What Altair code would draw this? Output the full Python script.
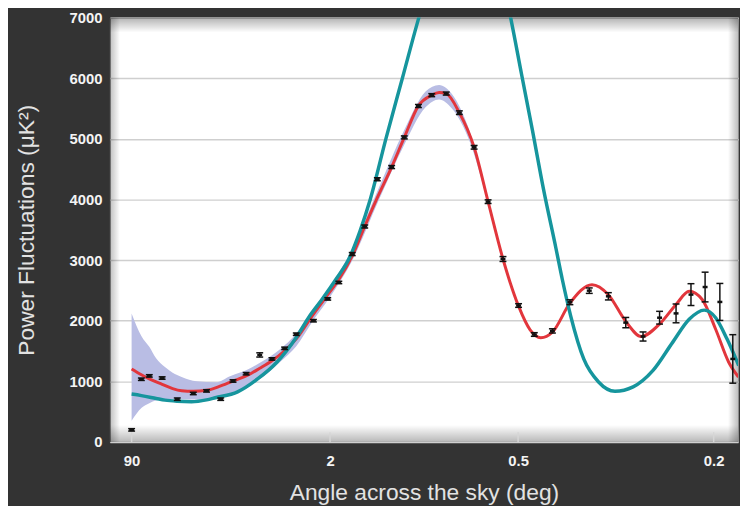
import altair as alt
import pandas as pd

# ---- data (x = multipole l, angle = 180/l) ----
red_l = [2, 3, 4, 6, 8, 10, 13, 17, 22, 28, 34, 40, 47, 55, 63, 75, 88, 98, 111, 124, 138,
         155, 171, 190, 209, 220, 231, 252, 277, 302, 330, 361, 385, 408, 434, 475, 530,
         573, 621, 666, 721, 773, 816, 860, 907, 954, 990]
red_v = [1205, 1110, 1040, 950, 880, 845, 835, 852, 925, 1020, 1105, 1215, 1340, 1505, 1700,
         2080, 2430, 2680, 3070, 3556, 4030, 4535, 5024, 5545, 5721, 5765, 5747, 5432, 4861,
         3964, 3018, 2240, 1850, 1720, 1810, 2290, 2594, 2430, 1990, 1740, 1945, 2268, 2485,
         2350, 1860, 1316, 1072]

cyan_l = [2, 3, 5, 6.5, 9, 12.5, 17, 20, 29, 39, 50, 63, 73, 83, 96, 108, 119, 130, 148,
          168.5, 190.6, 214, 245, 277, 314, 345, 367, 390, 414, 442, 457, 477, 509, 547, 591,
          642, 701, 762, 816, 867, 907, 948, 991]
cyan_v = [790, 765, 718, 690, 672, 665, 695, 730, 827, 1044, 1316, 1724, 2077, 2350, 2700,
          3030, 3480, 4000, 5000, 6000, 7000, 7870, 8500, 8700, 8165, 7000, 6070, 5140, 4170,
          3200, 2680, 2077, 1370, 990, 837, 909, 1180, 1643, 2023, 2175, 2050, 1697, 1261]

band_l = [2, 3, 4, 5, 6.5, 8, 10, 14, 20, 26, 34, 42, 52, 63, 75, 90, 110, 140, 170, 200,
          220, 240, 270, 300]
band_lo = [350, 560, 640, 690, 710, 710, 705, 700, 730, 790, 920, 1080, 1320, 1580, 1980,
           2390, 2960, 4000, 4880, 5520, 5650, 5500, 4940, 3990]
band_hi = [2120, 1750, 1570, 1380, 1235, 1140, 1070, 1000, 985, 1090, 1200, 1340, 1530, 1790,
           2170, 2570, 3150, 4200, 5120, 5780, 5890, 5740, 5110, 4090]

data_l = [2, 3, 4, 6, 9, 13, 17, 22, 27, 33, 40, 47, 55, 63, 76, 88, 98, 111, 124, 138, 155,
          171, 190, 209, 231, 252, 277, 302, 330, 361, 394, 434, 475, 523, 573, 621, 671,
          721, 773, 822, 870, 922, 969]
data_v = [200, 1035, 1090, 1055, 706, 800, 843, 706, 1006, 1126, 1436, 1370, 1545, 1778,
          2000, 2360, 2631, 3100, 3556, 4334, 4535, 5024, 5542, 5721, 5747, 5432, 4861, 3964,
          3018, 2251, 1773, 1832, 2305, 2496, 2403, 1969, 1740, 2050, 2121, 2431, 2556, 2310,
          1370]
data_err = [20, 20, 20, 20, 20, 20, 20, 20, 20, 20, 35, 20, 20, 20, 20, 20, 20, 25, 25, 25,
            25, 25, 25, 25, 25, 30, 30, 30, 40, 30, 30, 35, 40, 45, 60, 85, 75, 105, 155, 180,
            245, 305, 400]

tick_l = [2, 90, 360, 900]
tick_labels = ["90", "2", "0.5", "0.2"]
y_ticks = [0, 1000, 2000, 3000, 4000, 5000, 6000, 7000]

X_DOMAIN = [0.5755, 988.4]
Y_DOMAIN = [0, 7000]

# ---- tables ----
red_df = pd.DataFrame({"l": red_l, "v": red_v})
cyan_df = pd.DataFrame({"l": cyan_l, "v": cyan_v})
band_df = pd.DataFrame({"l": band_l, "lo": band_lo, "hi": band_hi})
pts_df = pd.DataFrame({"l": data_l, "v": data_v, "err": data_err})
pts_df["lo"] = pts_df["v"] - pts_df["err"]
pts_df["hi"] = pts_df["v"] + pts_df["err"]
ticks_df = pd.DataFrame({"l": tick_l, "y0": [0] * len(tick_l), "y1": [160] * len(tick_l)})
frame_df = pd.DataFrame({"x0": [X_DOMAIN[0]], "x1": [X_DOMAIN[1]],
                         "y0": [Y_DOMAIN[0]], "y1": [Y_DOMAIN[1]]})

label_expr = ""
for t, lab in zip(tick_l, tick_labels):
    label_expr += f"datum.value == {t} ? '{lab}' : "
label_expr += "''"

FONT = "Liberation Sans"
xs = alt.Scale(type="pow", exponent=0.4, domain=X_DOMAIN, zero=False, nice=False)
ys = alt.Scale(domain=Y_DOMAIN, zero=False, nice=False)

x_axis = alt.Axis(values=tick_l, labelExpr=label_expr, grid=False, ticks=False, domain=False,
                  labelColor="#f4f4f4", labelFontSize=15, labelFontWeight="bold", labelFont=FONT,
                  labelPadding=12, title="Angle across the sky (deg)", titleFontSize=23,
                  titleFont=FONT, titleColor="#e2e2e2", titleFontWeight="normal", titlePadding=13)
y_axis = alt.Axis(values=y_ticks, format="d", grid=True, gridColor="#cfcfcf", gridWidth=1.5,
                  ticks=False, domain=False, labelColor="#f4f4f4", labelFontSize=15,
                  labelFontWeight="bold", labelFont=FONT, labelPadding=8,
                  title="Power Fluctuations (μK²)", titleFontSize=23, titleFont=FONT,
                  titleColor="#e2e2e2", titleFontWeight="normal", titlePadding=31)


def X(f):
    return alt.X(f, type="quantitative", scale=xs, axis=x_axis)


def Y(f):
    return alt.Y(f, type="quantitative", scale=ys, axis=y_axis)


shadow_h = alt.Chart(frame_df).mark_rect(
    strokeWidth=0,
    fill={"gradient": "linear", "x1": 0, "y1": 0, "x2": 1, "y2": 0,
          "stops": [{"offset": 0, "color": "rgba(0,0,0,0.25)"},
                    {"offset": 0.016, "color": "rgba(0,0,0,0)"},
                    {"offset": 0.984, "color": "rgba(0,0,0,0)"},
                    {"offset": 1, "color": "rgba(0,0,0,0.25)"}]},
).encode(x=X("x0"), x2="x1", y=Y("y0"), y2="y1")

shadow_v = alt.Chart(frame_df).mark_rect(
    strokeWidth=0,
    fill={"gradient": "linear", "x1": 0, "y1": 0, "x2": 0, "y2": 1,
          "stops": [{"offset": 0, "color": "rgba(0,0,0,0.3)"},
                    {"offset": 0.035, "color": "rgba(0,0,0,0)"},
                    {"offset": 0.96, "color": "rgba(0,0,0,0)"},
                    {"offset": 1, "color": "rgba(0,0,0,0.28)"}]},
).encode(x=X("x0"), x2="x1", y=Y("y0"), y2="y1")

band = alt.Chart(band_df).mark_area(color="#b9bde4", opacity=1, interpolate="monotone",
                                    clip=True).encode(x=X("l"), y=Y("lo"), y2="hi")

red = alt.Chart(red_df).mark_line(color="#e2363c", strokeWidth=3, interpolate="monotone",
                                  clip=True).encode(x=X("l"), y=Y("v"))

cyan = alt.Chart(cyan_df).mark_line(color="#16959d", strokeWidth=3.5, interpolate="monotone",
                                    clip=True).encode(x=X("l"), y=Y("v"))

inner_ticks = alt.Chart(ticks_df).mark_rule(color="#d6d6d6", strokeWidth=1.5).encode(
    x=X("l"), y=Y("y0"), y2="y1")

bars = alt.Chart(pts_df).mark_rule(color="#111111", strokeWidth=1.5).encode(
    x=X("l"), y=Y("lo"), y2="hi")
cap_lo = alt.Chart(pts_df).mark_tick(color="#111111", orient="horizontal", size=7,
                                     thickness=1.5, opacity=1).encode(x=X("l"), y=Y("lo"))
cap_hi = alt.Chart(pts_df).mark_tick(color="#111111", orient="horizontal", size=7,
                                     thickness=1.5, opacity=1).encode(x=X("l"), y=Y("hi"))
center = alt.Chart(pts_df).mark_tick(color="#111111", orient="horizontal", size=5,
                                     thickness=2.5, opacity=1).encode(x=X("l"), y=Y("v"))

chart = alt.layer(
    shadow_h, shadow_v, inner_ticks, band, red, cyan, bars, cap_lo, cap_hi, center
).properties(
    width=635, height=429,
    padding={"left": 103, "top": 7, "right": 2, "bottom": 62},
    autosize=alt.AutoSizeParams(type="none"),
    background="#333333",
).configure(
    font=FONT
).configure_view(
    fill="white", stroke="#8e8e8e", strokeWidth=1
)

chart.save("out.html", embed_options={"renderer": "svg", "actions": False})
